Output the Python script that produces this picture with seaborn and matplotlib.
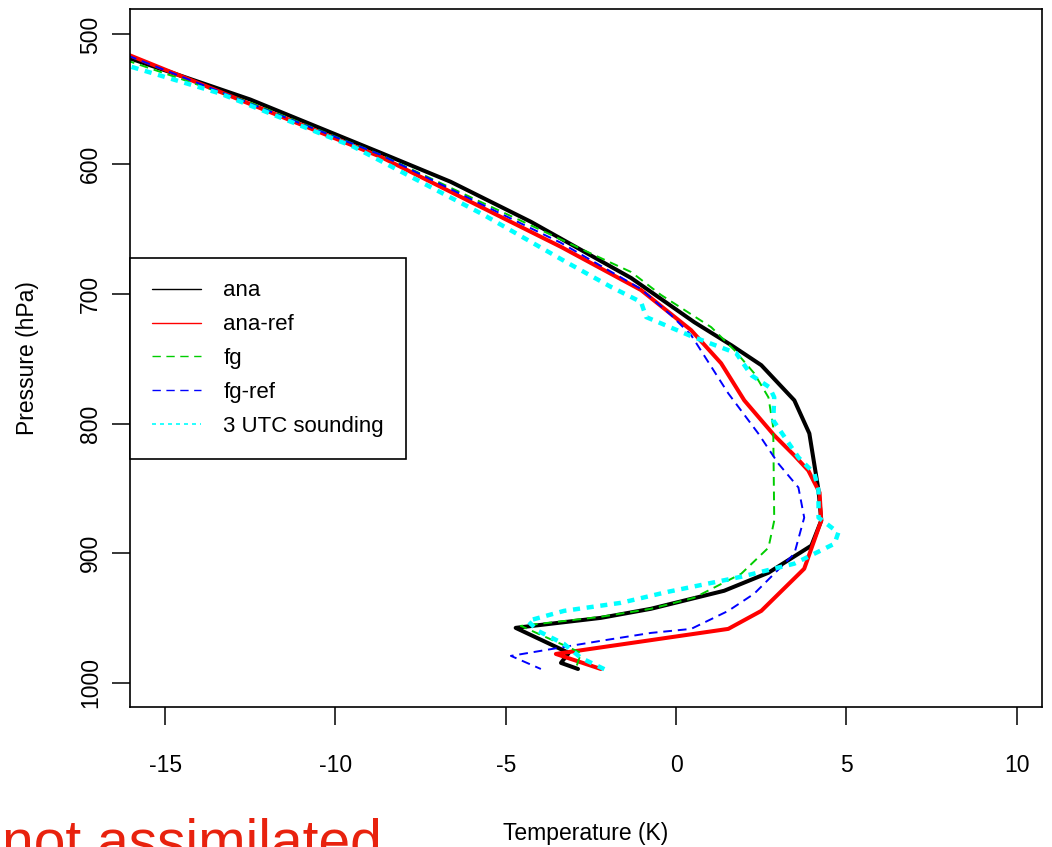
import numpy as np
import pandas as pd
import matplotlib
matplotlib.use("Agg")
import matplotlib.pyplot as plt
import seaborn as sns
from matplotlib.lines import Line2D
from matplotlib import font_manager

# ---- data (temperature in K offset, pressure in hPa) ----
ana_T = [-17.91, -16.03, -12.50, -8.68, -6.62, -4.26, -1.32, 0.53, 1.62, 2.50, 3.47, 3.91,
         4.18, 4.26, 3.97, 2.71, 1.41, -0.74, -2.21, -4.71, -3.15, -3.38, -2.88]
ana_P = [500, 518.5, 550.2, 591.2, 613.6, 644.5, 687.8, 721.8, 739.6, 755.0, 782.1, 807.6,
         851.6, 874.8, 894.1, 915.0, 928.9, 942.8, 949.8, 957.5, 976.8, 984.5, 989.2]

ana_ref_T = [-17.56, -16.03, -8.68, -5.74, -3.38, -1.03, 0.44, 1.32, 2.00, 2.88, 3.47, 3.88,
             4.21, 4.26, 3.76, 2.50, 1.53, -3.53, -2.21]
ana_ref_P = [500, 516.2, 594.3, 632.9, 663.8, 697.1, 728.0, 753.5, 782.1, 809.1, 824.6, 836.2,
             853.2, 874.8, 911.9, 944.4, 958.3, 977.6, 989.2]

fg_T = [-18.15, -16.03, -12.50, -8.68, -5.74, -2.41, -1.32, -0.44, 1.03, 1.71, 2.29, 2.71,
        2.85, 2.88, 2.71, 1.91, 0.53, -0.74, -2.21, -4.56, -2.79, -2.94]
fg_P = [500, 520.9, 552.6, 592.7, 629.1, 670.0, 683.2, 700.9, 725.7, 743.4, 761.2, 779.8,
        802.9, 874.8, 895.7, 915.8, 934.3, 942.8, 949.0, 956.0, 976.8, 988.4]

fg_ref_T = [-17.68, -16.03, -8.68, -5.74, -3.38, -1.03, -0.15, 0.44, 1.53, 2.41, 3.00, 3.59,
            3.76, 3.47, 2.29, 1.53, 0.44, -0.74, -2.21, -3.47, -4.85, -3.97]
fg_ref_P = [500, 517.0, 592.7, 630.6, 660.7, 696.3, 716.4, 731.8, 776.7, 807.6, 830.8, 849.3,
            872.5, 900.3, 931.2, 944.4, 958.3, 961.4, 967.5, 973.0, 979.1, 989.2]

snd_T = [-18.68, -16.03, -13.38, -9.47, -5.65, -3.18, -1.91, -1.03, -0.88, 0.44, 1.76, 2.21,
         2.74, 2.88, 2.85, 3.59, 4.06, 4.18, 4.18, 4.76, 4.65, 3.47, 1.91, -0.24, -1.62,
         -3.29, -4.35, -4.06, -3.29, -2.79, -2.00]
snd_P = [502.3, 524.7, 545.6, 586.6, 639.1, 676.2, 694.7, 706.3, 717.9, 732.6, 745.7, 762.8,
         772.0, 779.8, 797.5, 826.1, 838.5, 851.6, 872.5, 884.1, 892.6, 908.0, 918.1, 929.7,
         938.2, 944.4, 952.1, 959.8, 969.9, 980.7, 990.7]

series_names = ["ana", "ana-ref", "fg", "fg-ref", "3 UTC sounding"]
x_ticks = [-15, -10, -5, 0, 5, 10]
y_ticks = [500, 600, 700, 800, 900, 1000]

# ---- style ----
sns.set_theme(style="white")
names = {f.name for f in font_manager.fontManager.ttflist}
narrow = "Liberation Sans Narrow" if "Liberation Sans Narrow" in names else "Liberation Sans"
tick_fs = 19 if narrow == "Liberation Sans Narrow" else 16.5
plt.rcParams["font.family"] = ["Liberation Sans", "DejaVu Sans"]

fig = plt.figure(figsize=(10.52, 8.47), dpi=100)
ax = fig.add_axes([0.1236, 0.1653, 0.8669, 0.8241])

specs = [
    (ana_T, ana_P, "black", 2.9, "-"),
    (ana_ref_T, ana_ref_P, "#ff0000", 2.9, "-"),
    (fg_T, fg_P, "#00cd00", 1.4, (0, (4.5, 3.0))),
    (fg_ref_T, fg_ref_P, "#0000ff", 1.4, (0, (4.5, 3.0))),
    (snd_T, snd_P, "#00ffff", 3.2, (0, (1.6, 1.5))),
]
for (T, P, col, lw, ls), nm in zip(specs, series_names):
    df = pd.DataFrame({"T": T, "P": P})
    sns.lineplot(data=df, x="T", y="P", sort=False, estimator=None, color=col,
                 linewidth=lw, linestyle=ls, ax=ax, legend=False)

ax.set_xlim(-16.03, 10.74)
ax.set_ylim(1018.5, 480.4)
ax.set_xticks(x_ticks)
ax.set_yticks(y_ticks)
ax.set_xticklabels([str(v) for v in x_ticks], family=narrow, fontsize=tick_fs)
ax.set_yticklabels([str(v) for v in y_ticks], family=narrow, fontsize=tick_fs,
                   rotation=90, va="center")
ax.tick_params(axis="x", bottom=True, direction="out", length=13, width=1.1, pad=21,
               colors="black")
ax.tick_params(axis="y", left=True, direction="out", length=13, width=1.1, pad=7,
               colors="black")
for s in ax.spines.values():
    s.set_color("black")
    s.set_linewidth(1.2)

ax.set_xlabel("Temperature (K)", family=narrow, fontsize=tick_fs, color="black")
ax.set_ylabel("Pressure (hPa)", family=narrow, fontsize=tick_fs, color="black")
ax.xaxis.set_label_coords(0.5, -0.181)
ax.xaxis.label.set_va("center")
ax.yaxis.set_label_coords(-0.112, 0.5)
ax.yaxis.label.set_va("center")

handles = [
    Line2D([], [], color="black", lw=1.0, ls="-"),
    Line2D([], [], color="#ff0000", lw=1.0, ls="-"),
    Line2D([], [], color="#00cd00", lw=1.0, ls=(0, (6, 4))),
    Line2D([], [], color="#0000ff", lw=1.0, ls=(0, (6, 4))),
    Line2D([], [], color="#00ffff", lw=1.2, ls=(0, (2.4, 2.4))),
]
leg = ax.legend(handles, series_names, loc="upper left", bbox_to_anchor=(0.0, 0.643),
                borderaxespad=0, fontsize=16, handlelength=2.2, handletextpad=1.0,
                borderpad=1.0, labelspacing=0.58, frameon=True, fancybox=False,
                framealpha=1.0)
leg.get_frame().set_edgecolor("black")
leg.get_frame().set_linewidth(1.2)
for t in leg.get_texts():
    t.set_color("black")

fig.text(382 / 1052, 1 - 859 / 847, "not assimilated", ha="right", va="baseline",
         fontsize=41, color="#e8220e", family="Liberation Sans")

fig.savefig("out.png", dpi=100)
